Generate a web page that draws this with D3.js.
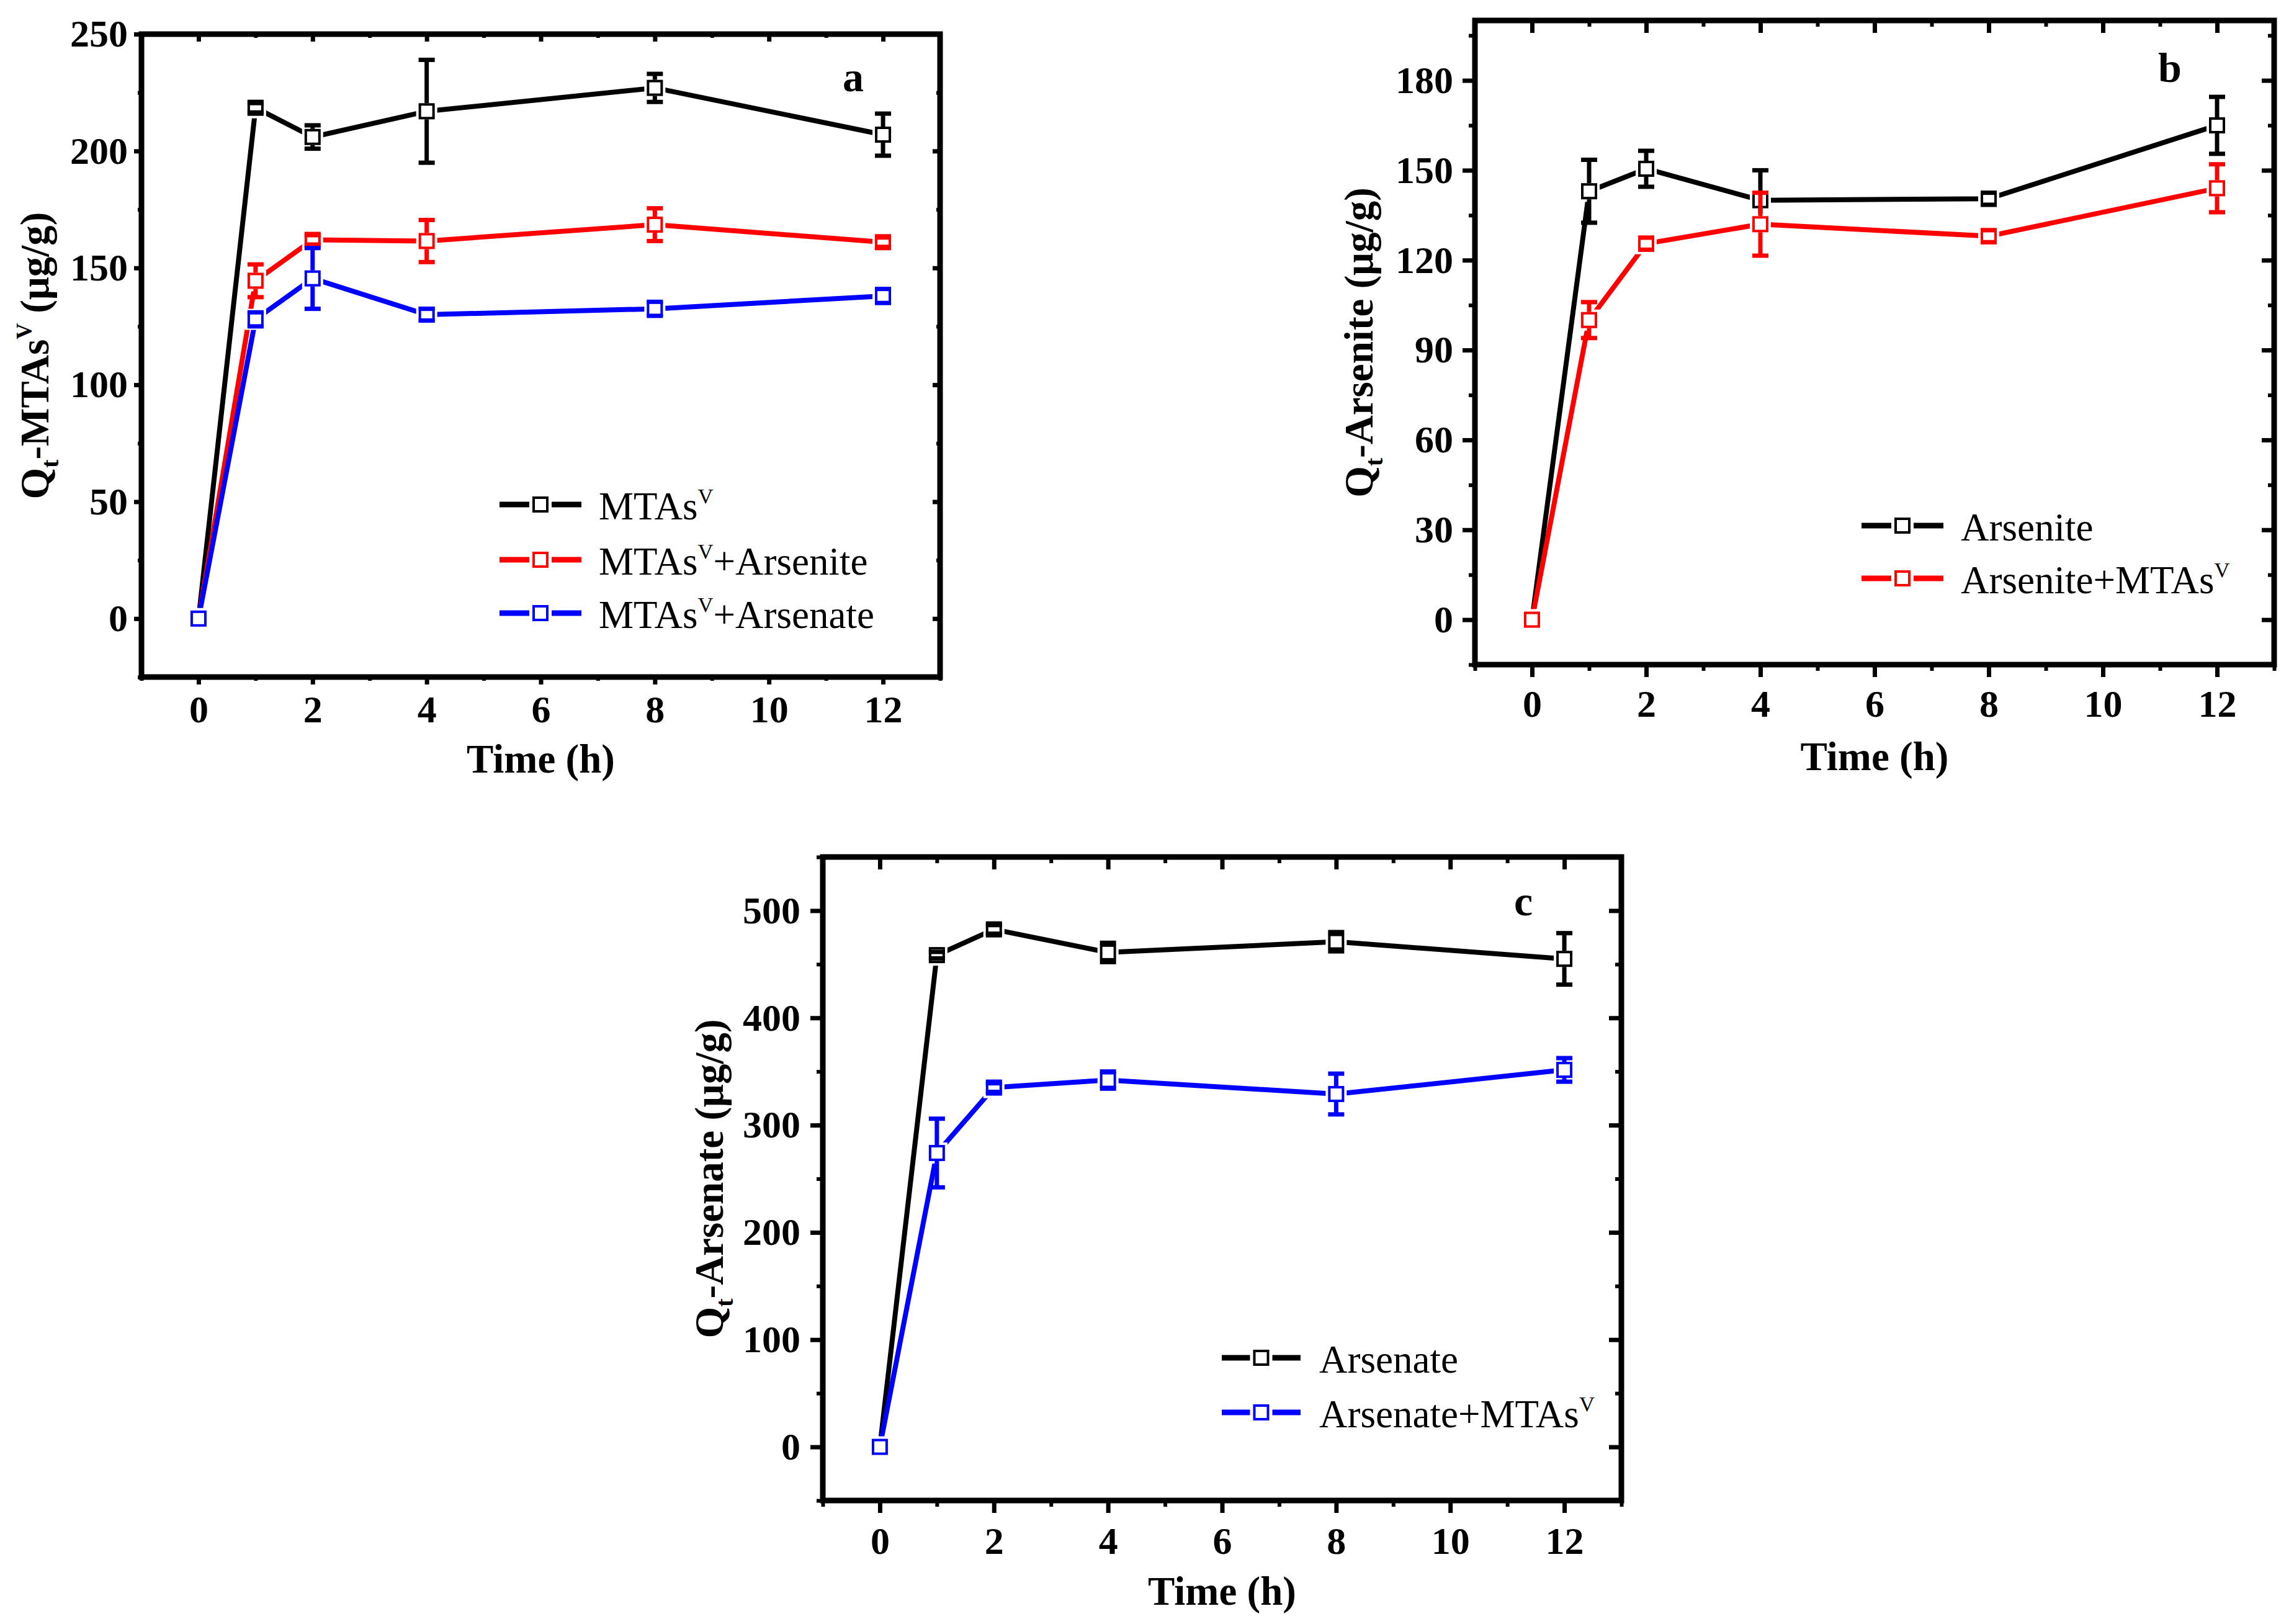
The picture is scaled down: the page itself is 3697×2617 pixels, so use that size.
<!DOCTYPE html>
<html>
<head>
<meta charset="utf-8">
<script src="https://cdn.jsdelivr.net/npm/d3@7"></script>
<style>
  body { margin: 0; background: #fff; }
</style>
</head>
<body>
<svg id="fig" width="3697" height="2617"></svg>
<script>
// sampling times (h), shared by every panel
const hours = [0, 1, 2, 4, 8, 12];
const xTicks = [0, 2, 4, 6, 8, 10, 12];

// panel a: MTAs(V) uptake, alone and with competing arsenic species
const mtasAlone        = [0, 218.5, 206, 217, 227, 207];
const mtasAloneErr     = [0, 2, 5, 22, 6, 9];
const mtasArsenite     = [0, 144.5, 162, 161.5, 168.5, 161];
const mtasArseniteErr  = [0, 7, 2, 9, 7, 2];
const mtasArsenate     = [0, 128, 145.5, 130, 132.5, 138];
const mtasArsenateErr  = [0, 3, 13, 2.5, 3, 3];
const yTicksA = [0, 50, 100, 150, 200, 250];

// panel b: arsenite uptake
const arseniteAlone    = [0, 143, 150.5, 140, 140.5, 165];
const arseniteAloneErr = [0, 10.5, 6, 10, 2, 9.5];
const arseniteMtas     = [0, 100, 125.5, 132, 128, 144];
const arseniteMtasErr  = [0, 6, 2, 10.5, 2, 8];
const yTicksB = [0, 30, 60, 90, 120, 150, 180];

// panel c: arsenate uptake
const arsenateAlone    = [0, 458.5, 482.5, 461, 471, 455];
const arsenateAloneErr = [0, 3, 4, 9, 9, 24];
const arsenateMtas     = [0, 274, 335, 342, 329, 351.5];
const arsenateMtasErr  = [0, 32, 4, 8, 19, 11];
const yTicksC = [0, 100, 200, 300, 400, 500];

const FONT = "'Liberation Serif', 'Times New Roman', serif";
const svg = d3.select("#fig");
svg.append("rect").attr("width", 3697).attr("height", 2617).attr("fill", "#fff");

// writes "Q_t-MTAs^V" style strings: _x = subscript char, ^x = superscript char
function richText(sel, str, size) {
    const parts = str.split(/([_^].)/).filter(s => s.length);
    let shift = 0;
    parts.forEach(part => {
        let dy = 0, fs = size, txt = part;
        if (part[0] === "^") { txt = part[1]; fs = size * 0.55; dy = -size * 0.42 - shift; shift = -size * 0.42; }
        else if (part[0] === "_") { txt = part[1]; fs = size * 0.62; dy = size * 0.25 - shift; shift = size * 0.25; }
        else { dy = -shift; shift = 0; }
        sel.append("tspan").attr("dy", dy).attr("font-size", fs).text(txt);
    });
}

function styleAxis(sel, width, withText) {
    sel.select(".domain").remove();
    sel.selectAll(".tick line")
        .attr("stroke", "#000")
        .attr("stroke-width", width)
        .attr("stroke-linecap", "butt");
    if (withText) {
        sel.selectAll(".tick text")
            .attr("font-family", FONT)
            .attr("font-weight", "bold")
            .attr("font-size", 62)
            .attr("fill", "#000");
    }
}

function drawPanel(p) {
    const g = svg.append("g").attr("transform", `translate(${p.left},${p.top})`);

    const x = d3.scaleLinear().domain([-1, 13]).range([0, p.width]);
    const y = d3.scaleLinear().domain(p.yDomain).range([p.height, 0]);

    const xMinor = d3.range(-1, 14, 2);
    const yMinor = d3.range(p.yDomain[0], p.yDomain[1] + 0.01, p.yMinorStep);

    // bottom / left: outward ticks with labels
    g.append("g").attr("transform", `translate(0,${p.height})`)
        .call(d3.axisBottom(x).tickValues(xTicks).tickSize(p.tick).tickPadding(p.xPad).tickFormat(d3.format("d")))
        .call(s => styleAxis(s, 7, true));
    g.append("g").attr("transform", `translate(0,${p.height})`)
        .call(d3.axisBottom(x).tickValues(xMinor).tickSize(p.tick / 2).tickFormat(""))
        .call(s => styleAxis(s, 6, false));
    g.append("g")
        .call(d3.axisLeft(y).tickValues(p.yTicks).tickSize(p.tick).tickPadding(p.yPad).tickFormat(d3.format("d")))
        .call(s => styleAxis(s, 7, true));
    g.append("g")
        .call(d3.axisLeft(y).tickValues(yMinor).tickSize(p.tick / 2).tickFormat(""))
        .call(s => styleAxis(s, 6, false));

    // top / right: mirrored inward ticks
    g.append("g")
        .call(d3.axisTop(x).tickValues(xTicks).tickSize(-p.tick).tickFormat(""))
        .call(s => styleAxis(s, 7, false));
    g.append("g")
        .call(d3.axisTop(x).tickValues(xMinor).tickSize(-p.tick / 2).tickFormat(""))
        .call(s => styleAxis(s, 6, false));
    g.append("g").attr("transform", `translate(${p.width},0)`)
        .call(d3.axisRight(y).tickValues(p.yTicks).tickSize(-p.tick).tickFormat(""))
        .call(s => styleAxis(s, 7, false));
    g.append("g").attr("transform", `translate(${p.width},0)`)
        .call(d3.axisRight(y).tickValues(yMinor).tickSize(-p.tick / 2).tickFormat(""))
        .call(s => styleAxis(s, 6, false));

    // frame
    g.append("rect")
        .attr("width", p.width).attr("height", p.height)
        .attr("fill", "none").attr("stroke", "#000").attr("stroke-width", 9);

    const M = 26;      // marker outer size
    const half = M / 2;

    p.series.forEach(s => {
        const pts = hours.map((h, i) => ({ h, v: s.values[i], e: s.errors[i] }));

        g.append("path").datum(pts)
            .attr("d", d3.line().x(d => x(d.h)).y(d => y(d.v)))
            .attr("fill", "none")
            .attr("stroke", s.color)
            .attr("stroke-width", 8)
            .attr("stroke-linejoin", "round");

        // white gap around each symbol
        g.append("g").selectAll("rect")
            .data(pts).join("rect")
            .attr("x", d => x(d.h) - half - 4).attr("y", d => y(d.v) - half - 4)
            .attr("width", M + 8).attr("height", M + 8)
            .attr("fill", "#fff");

        g.append("g").selectAll("rect")
            .data(pts).join("rect")
            .attr("x", d => x(d.h) - half + 2).attr("y", d => y(d.v) - half + 2)
            .attr("width", M - 4).attr("height", M - 4)
            .attr("fill", "#fff").attr("stroke", s.color).attr("stroke-width", 4);

        // error bars: stems start at the symbol edge, caps at +/- error
        const eb = g.append("g").attr("stroke", s.color);
        pts.filter(d => d.e > 0).forEach(d => {
            const cx = x(d.h), cy = y(d.v);
            const top = y(d.v + d.e), bot = y(d.v - d.e);
            if (cy - top > half) {
                eb.append("line").attr("x1", cx).attr("x2", cx).attr("y1", top).attr("y2", cy - half).attr("stroke-width", 7);
                eb.append("line").attr("x1", cx).attr("x2", cx).attr("y1", cy + half).attr("y2", bot).attr("stroke-width", 7);
            }
            [top, bot].forEach(yy => {
                eb.append("line").attr("x1", cx - 13).attr("x2", cx + 13)
                    .attr("y1", yy).attr("y2", yy).attr("stroke-width", 7);
            });
        });
    });

    // legend
    const mid = (p.legend.x0 + p.legend.x1) / 2;
    p.series.forEach((s, i) => {
        const ly = p.legend.rows[i];
        g.append("line")
            .attr("x1", p.legend.x0).attr("x2", p.legend.x1)
            .attr("y1", ly).attr("y2", ly)
            .attr("stroke", s.color).attr("stroke-width", 9);
        g.append("rect")
            .attr("x", mid - half - 5).attr("y", ly - half - 5)
            .attr("width", M + 10).attr("height", M + 10).attr("fill", "#fff");
        g.append("rect")
            .attr("x", mid - half + 2).attr("y", ly - half + 2)
            .attr("width", M - 4).attr("height", M - 4)
            .attr("fill", "#fff").attr("stroke", s.color).attr("stroke-width", 4);
        const t = g.append("text")
            .attr("x", p.legend.textX).attr("y", ly + 24)
            .attr("font-family", FONT).attr("font-size", 63).attr("fill", "#000");
        richText(t, s.name, 63);
    });

    // axis titles
    g.append("text")
        .attr("x", p.width / 2).attr("y", p.height + p.xTitleDy)
        .attr("text-anchor", "middle")
        .attr("font-family", FONT).attr("font-weight", "bold").attr("font-size", 65)
        .text("Time (h)");

    const yt = g.append("text")
        .attr("transform", `translate(${p.yTitleX},${p.height / 2}) rotate(-90)`)
        .attr("text-anchor", "middle")
        .attr("font-family", FONT).attr("font-weight", "bold").attr("font-size", 65);
    richText(yt, p.yTitle, 65);

    // panel letter
    g.append("text")
        .attr("x", p.letterX).attr("y", p.letterY)
        .attr("text-anchor", "middle")
        .attr("font-family", FONT).attr("font-weight", "bold").attr("font-size", 68)
        .text(p.letter);
}

drawPanel({
    left: 228, top: 55, width: 1287, height: 1036,
    yDomain: [-25, 250], yTicks: yTicksA, yMinorStep: 25,
    tick: 12, yPad: 10, xPad: 17, xTitleDy: 154, yTitleX: -150,
    yTitle: "Q_t-MTAs^V (μg/g)",
    letter: "a", letterX: 1147, letterY: 92,
    legend: { x0: 577, x1: 709, textX: 737, rows: [758, 847, 933] },
    series: [
        { name: "MTAs^V",           color: "#000000", values: mtasAlone,    errors: mtasAloneErr },
        { name: "MTAs^V+Arsenite",  color: "#ff0000", values: mtasArsenite, errors: mtasArseniteErr },
        { name: "MTAs^V+Arsenate",  color: "#0000ff", values: mtasArsenate, errors: mtasArsenateErr }
    ]
});

drawPanel({
    left: 2377, top: 33, width: 1288, height: 1038,
    yDomain: [-15, 200], yTicks: yTicksB, yMinorStep: 15,
    tick: 20, yPad: 15, xPad: 20, xTitleDy: 170, yTitleX: -165,
    yTitle: "Q_t-Arsenite (μg/g)",
    letter: "b", letterX: 1120, letterY: 99,
    legend: { x0: 623, x1: 755, textX: 783, rows: [814, 899] },
    series: [
        { name: "Arsenite",         color: "#000000", values: arseniteAlone, errors: arseniteAloneErr },
        { name: "Arsenite+MTAs^V",  color: "#ff0000", values: arseniteMtas,  errors: arseniteMtasErr }
    ]
});

drawPanel({
    left: 1326, top: 1381, width: 1287, height: 1037,
    yDomain: [-50, 550], yTicks: yTicksC, yMinorStep: 50,
    tick: 20, yPad: 16, xPad: 22, xTitleDy: 168, yTitleX: -161,
    yTitle: "Q_t-Arsenate (μg/g)",
    letter: "c", letterX: 1129, letterY: 94,
    legend: { x0: 643, x1: 770, textX: 800, rows: [807, 895] },
    series: [
        { name: "Arsenate",         color: "#000000", values: arsenateAlone, errors: arsenateAloneErr },
        { name: "Arsenate+MTAs^V",  color: "#0000ff", values: arsenateMtas,  errors: arsenateMtasErr }
    ]
});
</script>
</body>
</html>
